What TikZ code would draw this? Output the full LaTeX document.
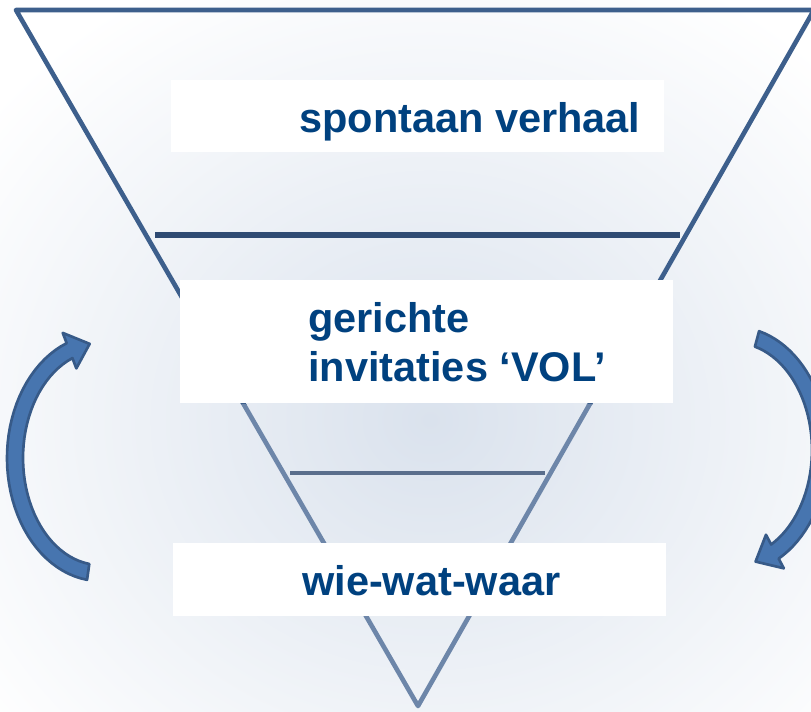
\documentclass[tikz,border=0pt]{standalone}
\usepackage{fontspec}
\setmainfont{Liberation Sans}
\usetikzlibrary{positioning}
\definecolor{trechter}{HTML}{3D5F8C}
\definecolor{trechterlicht}{HTML}{6D86A9}
\definecolor{streep}{HTML}{2F4B73}
\definecolor{streeplicht}{HTML}{5A6E8C}
\definecolor{tekstblauw}{HTML}{00417F}
\definecolor{gloed}{HTML}{DAE2ED}
\definecolor{pijlvul}{HTML}{4775AF}
\definecolor{pijlrand}{HTML}{375A88}
% gebogen blokpijl langs een ellips: middelpunt (#1,#2), van hoek #3 naar #4
\newcommand{\draaipijl}[4]{%
  \filldraw[pijl] plot[domain=#3:#4, samples=40] ({#1+93*cos(\x)}, {#2+123*sin(\x)})
    -- ({#1+104*cos(#4)}, {#2+134*sin(#4)})
    -- ({#1+85*cos(#4+14)}, {#2+115*sin(#4+14)})
    -- ({#1+66*cos(#4)}, {#2+96*sin(#4)})
    -- plot[domain=#4:#3, samples=40] ({#1+77*cos(\x)}, {#2+107*sin(\x)})
    -- cycle;}

\begin{document}
\begin{tikzpicture}[x=0.025cm, y=-0.025cm,
    vak/.style={rectangle, fill=white, inner sep=0pt, minimum width=12.325cm},
    tekst/.style={text=tekstblauw, font=\fontsize{29.5}{35}\selectfont\bfseries, inner sep=0pt, align=left},
    rand/.style={line width=3.3pt, line join=round, line cap=round},
    pijl/.style={fill=pijlvul, draw=pijlrand, line width=1.9pt, line join=round}]
    \useasboundingbox (0,0) rectangle (811,712);
    \clip (0,0) rectangle (811,712);
    \fill[white] (0,0) rectangle (811,712);
    \shade[inner color=gloed, outer color=white] (430,420) ellipse [x radius=560, y radius=500];

    % trechter
    \coordinate (linksboven) at (16,10);
    \coordinate (rechtsboven) at (814,10);
    \coordinate (punt) at (418,706);
    \begin{scope}
        \clip (0,0) rectangle (811,404);
        \draw[rand, trechter] (linksboven) -- (rechtsboven) -- (punt) -- cycle;
    \end{scope}
    \begin{scope}
        \clip (0,404) rectangle (811,712);
        \draw[rand, trechterlicht] (linksboven) -- (rechtsboven) -- (punt) -- cycle;
    \end{scope}
    \draw[line width=3.6pt, streep] (155,235) -- (680,235);
    \draw[line width=3pt, streeplicht] (290,473) -- (545,473);

    % vakken met tekst
    \node[vak, minimum height=1.8cm] (verhaal) at (417.5,116) {};
    \node[vak, minimum height=3.075cm] (invitaties) at (426.5,341.5) {};
    \node[vak, minimum height=1.825cm] (www) at (419.5,579.5) {};
    \node[tekst, anchor=base west] (verhaaltekst) at (299,132) {spontaan verhaal};
    \node[tekst, anchor=west] (invitatiestekst) at (308,342) {gerichte\\invitaties ‘VOL’};
    \node[tekst, anchor=base west] (wwwtekst) at (302,595) {wie-wat-waar};

    % pijlen links en rechts
    \draaipijl{100}{458}{98}{249}
    \draaipijl{735}{450}{285}{422}
\end{tikzpicture}
\end{document}
